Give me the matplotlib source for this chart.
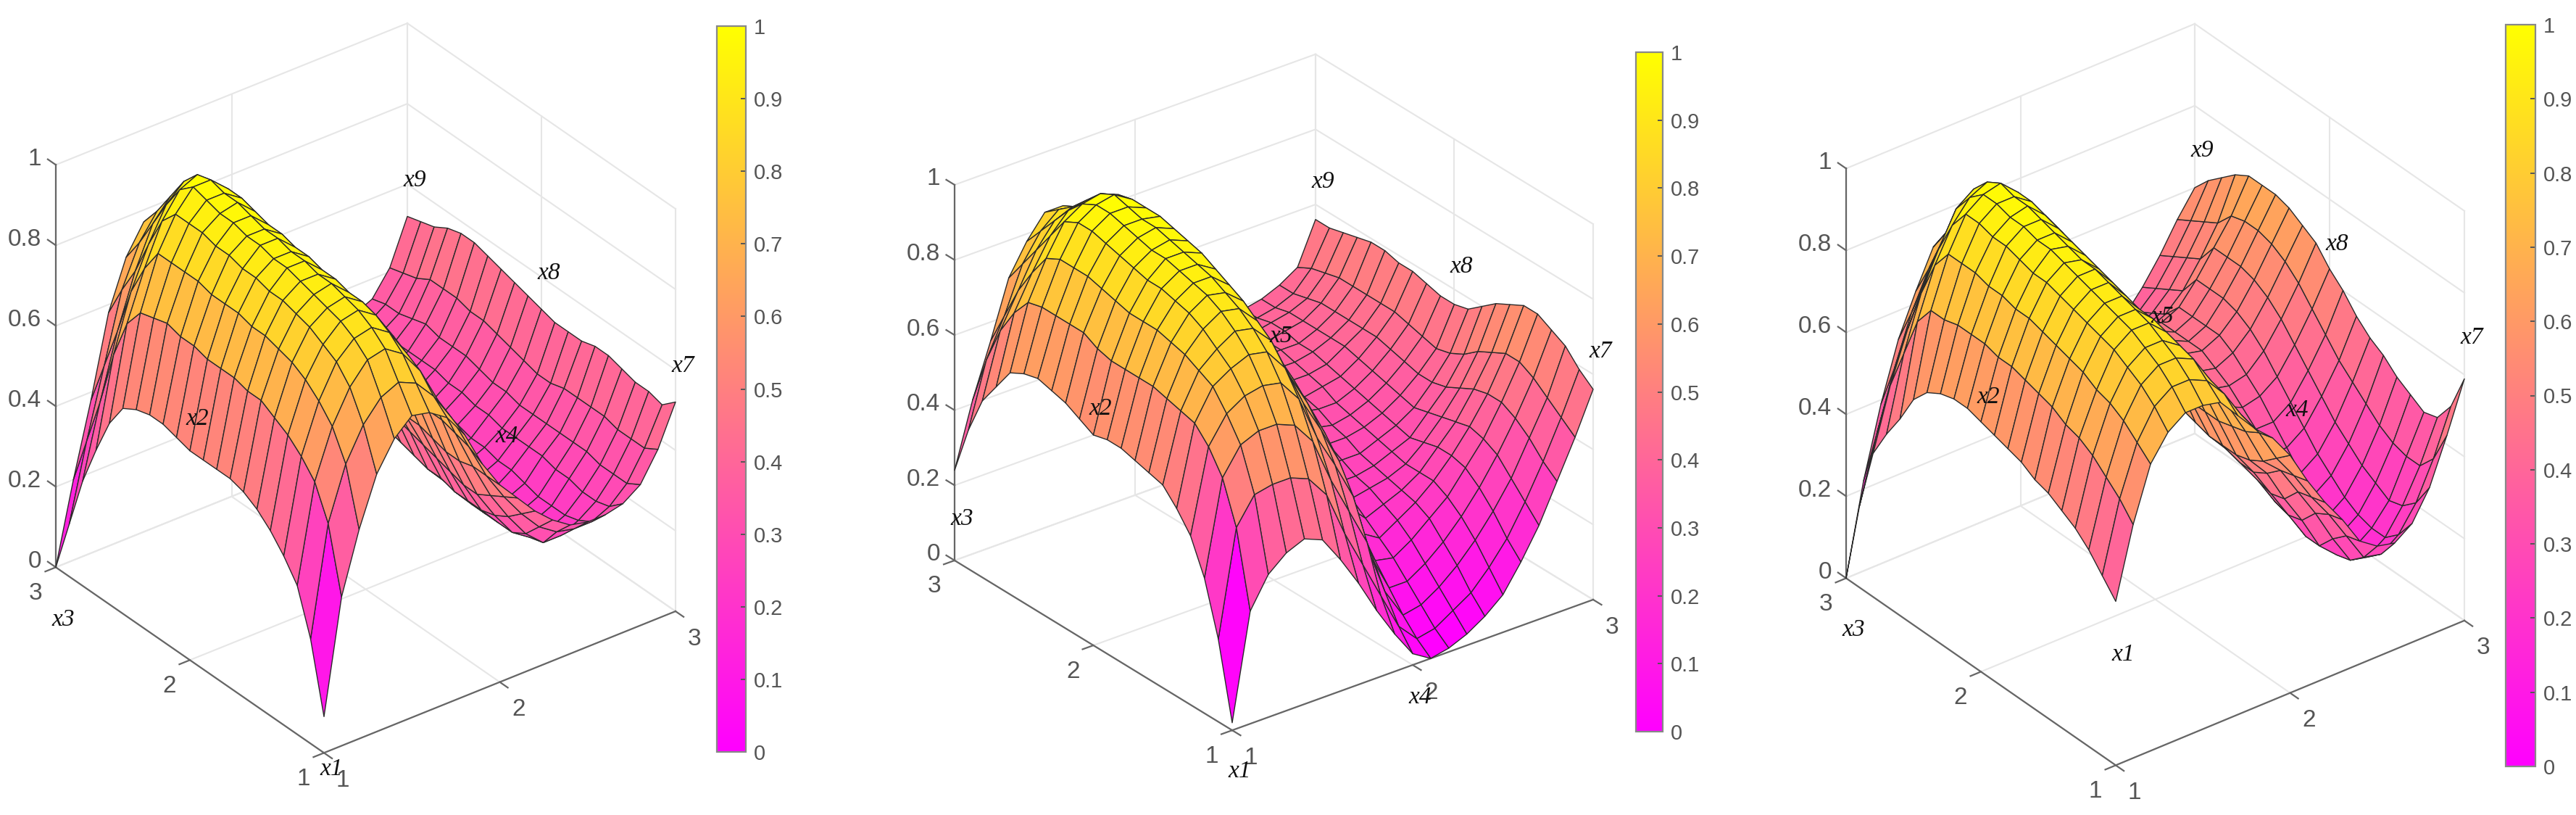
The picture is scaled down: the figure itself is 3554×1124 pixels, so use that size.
import numpy as np
import matplotlib
matplotlib.use("Agg")
import matplotlib.pyplot as plt
from matplotlib.cm import ScalarMappable
from matplotlib.colors import Normalize
from mpl_toolkits.mplot3d import proj3d

W, H = 3554, 1124

x_vals = [1.0 + 0.1 * i for i in range(21)]
y_vals = [1.0 + 0.1 * i for i in range(21)]
z_ticks = [0, 0.2, 0.4, 0.6, 0.8, 1]
z_tick_labels = ["0", "0.2", "0.4", "0.6", "0.8", "1"]
xy_ticks = [1, 2, 3]
cbar_ticks = [0, 0.1, 0.2, 0.3, 0.4, 0.5, 0.6, 0.7, 0.8, 0.9, 1]
cbar_tick_labels = ["0", "0.1", "0.2", "0.3", "0.4", "0.5", "0.6", "0.7", "0.8", "0.9", "1"]

# surface heights in percent, one row per x value, one column per y value
z_panel1 = [
    [9, 26, 37, 42, 46, 49, 51, 52, 52, 52, 52, 53, 54, 54, 53, 51, 45, 36, 26, 13, 0],
    [37, 53, 61, 65, 68, 70, 72, 72, 73, 73, 73, 74, 74, 75, 74, 73, 68, 58, 44, 32, 20],
    [52, 66, 73, 77, 80, 82, 83, 84, 84, 85, 85, 85, 86, 86, 86, 86, 80, 72, 60, 49, 38],
    [64, 74, 81, 85, 87, 89, 90, 91, 91, 92, 92, 93, 93, 94, 94, 94, 90, 82, 73, 66, 58],
    [71, 79, 86, 89, 91, 92, 93, 94, 95, 95, 96, 96, 97, 97, 98, 99, 96, 90, 83, 76, 70],
    [75, 81, 87, 90, 92, 93, 94, 94, 95, 95, 96, 96, 97, 98, 98, 99, 98, 94, 88, 82, 77],
    [74, 79, 84, 87, 89, 90, 90, 91, 91, 92, 92, 93, 93, 94, 95, 95, 94, 92, 88, 83, 78],
    [71, 74, 78, 80, 82, 83, 83, 84, 84, 85, 85, 86, 86, 87, 88, 88, 88, 86, 83, 79, 75],
    [65, 67, 69, 71, 72, 73, 74, 74, 75, 75, 76, 76, 77, 78, 79, 79, 79, 78, 76, 73, 70],
    [56, 58, 59, 60, 60, 61, 62, 62, 63, 63, 64, 65, 66, 67, 68, 68, 68, 67, 66, 64, 62],
    [49, 49, 49, 48, 48, 49, 50, 50, 51, 51, 52, 53, 54, 55, 56, 57, 57, 57, 56, 55, 54],
    [44, 42, 40, 38, 38, 39, 40, 41, 42, 43, 44, 45, 46, 47, 48, 48, 48, 47, 46, 45, 45],
    [39, 36, 33, 31, 30, 30, 30, 31, 31, 32, 33, 34, 35, 36, 37, 38, 39, 40, 40, 40, 41],
    [35, 31, 27, 25, 25, 25, 25, 26, 26, 27, 28, 29, 30, 31, 32, 33, 34, 35, 35, 35, 36],
    [32, 28, 23, 22, 22, 22, 23, 23, 24, 25, 25, 26, 27, 28, 29, 30, 31, 31, 32, 32, 33],
    [31, 27, 23, 22, 22, 22, 23, 23, 24, 25, 25, 26, 27, 28, 28, 29, 30, 30, 30, 30, 31],
    [31, 27, 25, 24, 24, 24, 25, 26, 26, 27, 27, 28, 29, 29, 30, 30, 31, 31, 31, 31, 31],
    [32, 29, 28, 28, 29, 29, 30, 30, 30, 30, 31, 31, 32, 32, 33, 33, 33, 33, 33, 33, 33],
    [35, 33, 33, 33, 34, 34, 34, 34, 34, 34, 35, 35, 36, 37, 37, 37, 38, 37, 36, 36, 35],
    [42, 40, 40, 40, 41, 41, 41, 41, 40, 40, 41, 42, 43, 44, 44, 45, 45, 45, 43, 42, 41],
    [52, 49, 50, 50, 51, 52, 52, 51, 51, 51, 52, 53, 54, 55, 56, 57, 57, 56, 54, 53, 52],
]

z_panel2 = [
    [2, 22, 36, 45, 50, 54, 55, 56, 57, 57, 56, 58, 60, 61, 62, 61, 59, 53, 47, 37, 24],
    [30, 50, 61, 67, 71, 72, 73, 74, 74, 74, 74, 75, 77, 77, 77, 77, 76, 71, 64, 54, 41],
    [38, 57, 68, 74, 79, 81, 83, 84, 85, 85, 85, 86, 87, 88, 88, 88, 86, 80, 73, 64, 55],
    [42, 58, 70, 77, 82, 85, 88, 90, 91, 92, 92, 93, 94, 95, 96, 96, 94, 88, 82, 76, 70],
    [44, 58, 70, 78, 84, 88, 91, 93, 94, 95, 96, 96, 97, 98, 99, 99, 97, 93, 88, 83, 78],
    [42, 56, 68, 77, 83, 87, 90, 92, 94, 95, 96, 97, 98, 98, 99, 100, 98, 94, 90, 87, 84],
    [35, 50, 62, 71, 77, 82, 85, 88, 90, 92, 94, 95, 96, 97, 97, 97, 96, 92, 89, 86, 84],
    [27, 38, 50, 59, 66, 71, 75, 78, 81, 83, 85, 86, 87, 88, 88, 88, 87, 85, 82, 79, 76],
    [18, 28, 40, 50, 57, 62, 66, 69, 72, 74, 76, 78, 79, 80, 80, 80, 80, 78, 76, 72, 69],
    [10, 18, 30, 40, 47, 52, 56, 59, 62, 64, 66, 68, 69, 70, 70, 70, 70, 69, 67, 64, 61],
    [3, 8, 15, 22, 29, 35, 40, 44, 47, 50, 52, 54, 55, 56, 57, 57, 57, 57, 56, 55, 54],
    [0, 3, 7, 12, 17, 22, 27, 31, 35, 38, 41, 43, 45, 47, 48, 49, 50, 50, 50, 49, 49],
    [1, 4, 8, 12, 16, 19, 22, 25, 27, 29, 32, 35, 37, 39, 41, 43, 44, 45, 45, 45, 45],
    [3, 7, 11, 15, 19, 22, 24, 26, 27, 29, 31, 33, 35, 37, 38, 40, 41, 42, 42, 42, 42],
    [6, 10, 15, 19, 23, 25, 26, 27, 28, 29, 31, 32, 34, 35, 37, 38, 39, 40, 40, 40, 40],
    [10, 15, 20, 24, 27, 29, 29, 29, 30, 31, 32, 33, 34, 36, 37, 38, 39, 39, 39, 39, 39],
    [17, 21, 26, 30, 33, 34, 34, 33, 32, 33, 34, 35, 36, 37, 38, 39, 39, 40, 40, 39, 39],
    [25, 29, 33, 37, 39, 40, 39, 38, 37, 36, 37, 38, 39, 40, 41, 41, 41, 41, 41, 40, 40],
    [35, 38, 42, 45, 47, 47, 46, 44, 42, 41, 41, 42, 43, 44, 44, 44, 44, 44, 43, 42, 42],
    [45, 48, 51, 54, 56, 56, 54, 52, 49, 47, 46, 47, 48, 49, 49, 49, 49, 49, 48, 47, 45],
    [56, 59, 63, 65, 67, 67, 65, 63, 60, 57, 56, 56, 57, 58, 58, 59, 59, 58, 57, 56, 56],
]

z_panel3 = [
    [40, 44, 48, 51, 53, 55, 56, 58, 59, 60, 61, 62, 62, 61, 59, 55, 48, 42, 35, 20, 0],
    [57, 61, 64, 67, 69, 70, 72, 73, 74, 75, 75, 76, 76, 76, 75, 75, 70, 60, 50, 36, 22],
    [70, 73, 76, 78, 79, 81, 82, 83, 84, 85, 85, 86, 86, 87, 87, 87, 82, 73, 62, 50, 39],
    [76, 80, 83, 85, 87, 88, 89, 90, 91, 92, 92, 93, 94, 94, 95, 95, 90, 82, 72, 62, 53],
    [79, 83, 86, 88, 90, 91, 92, 93, 94, 95, 96, 96, 97, 97, 98, 98, 95, 90, 80, 71, 63],
    [79, 83, 86, 88, 90, 91, 92, 93, 94, 94, 95, 96, 97, 98, 98, 99, 97, 93, 85, 78, 72],
    [78, 81, 84, 85, 86, 87, 87, 88, 89, 90, 91, 92, 93, 94, 95, 95, 93, 89, 84, 79, 75],
    [73, 76, 77, 78, 78, 79, 79, 79, 80, 82, 84, 85, 86, 88, 88, 89, 87, 83, 78, 74, 72],
    [68, 69, 69, 69, 69, 69, 69, 70, 72, 74, 75, 77, 78, 79, 80, 80, 78, 75, 71, 68, 65],
    [64, 63, 61, 60, 59, 59, 59, 61, 62, 63, 65, 67, 68, 69, 70, 70, 68, 66, 62, 60, 57],
    [58, 55, 52, 50, 49, 49, 49, 50, 51, 53, 55, 56, 58, 59, 60, 60, 59, 56, 53, 50, 48],
    [50, 49, 48, 45, 43, 43, 44, 46, 48, 50, 52, 53, 55, 56, 57, 57, 55, 53, 49, 46, 43],
    [43, 42, 41, 37, 36, 37, 39, 41, 43, 46, 49, 50, 52, 53, 54, 54, 52, 49, 46, 42, 38],
    [37, 36, 34, 30, 29, 30, 32, 35, 38, 41, 44, 46, 48, 49, 50, 50, 48, 46, 43, 39, 35],
    [30, 29, 26, 22, 22, 24, 27, 30, 34, 37, 40, 42, 44, 46, 47, 47, 46, 44, 41, 37, 33],
    [27, 22, 19, 18, 19, 21, 24, 27, 31, 35, 38, 41, 43, 45, 45, 45, 45, 41, 39, 36, 33],
    [26, 21, 18, 18, 19, 21, 24, 27, 31, 35, 39, 42, 45, 47, 47, 47, 47, 43, 41, 39, 36],
    [29, 24, 21, 21, 22, 24, 27, 30, 34, 38, 42, 46, 49, 51, 52, 52, 52, 47, 45, 43, 41],
    [36, 30, 27, 26, 28, 30, 33, 36, 40, 44, 48, 52, 55, 57, 58, 58, 58, 53, 51, 49, 47],
    [47, 39, 35, 35, 36, 38, 41, 44, 47, 51, 55, 59, 62, 64, 65, 65, 64, 60, 58, 56, 54],
    [59, 50, 45, 44, 46, 48, 51, 53, 56, 60, 63, 67, 69, 71, 72, 72, 72, 70, 67, 64, 60],
]

panels = [
    dict(z=z_panel1, L=(77, 783), F=(447, 1038), R=(932, 842), T=(77, 228),
         bar=(989, 36, 40, 1001),
         labels=[("x9", 3, 3, .61), ("x8", 3, 2, .61), ("x7", 3, 1, .61), ("x4", 2, 1, .61),
                 ("x2", 1, 2, .60), ("x3", 1, 3, -.13), ("x1", 1, 1, -.04)]),
    dict(z=z_panel2, L=(1317, 771), F=(1700, 1008), R=(2198, 830), T=(1317, 253),
         bar=(2257, 72, 37, 937),
         labels=[("x9", 3, 3, .66), ("x8", 3, 2, .66), ("x7", 3, 1, .66), ("x5", 2, 2, .65),
                 ("x2", 1, 2, .63), ("x3", 1, 3, .11), ("x1", 1, 1, -.11), ("x4", 2, 1, -.086)]),
    dict(z=z_panel3, L=(2547, 796), F=(2919, 1056), R=(3400, 858), T=(2547, 231),
         bar=(3457, 34, 41, 1023),
         labels=[("x9", 3, 3, .69), ("x8", 3, 2, .69), ("x7", 3, 1, .69), ("x5", 2, 2, .69),
                 ("x4", 2, 1, .69), ("x2", 1, 2, .67), ("x3", 1, 3, -.127), ("x1", 1, 1, .27)]),
]

GRID = "#e6e6e6"
AXIS = "#666666"
TICK_TEXT = "#555555"
TICK_FONT = "Liberation Sans"


def project(ax, x, y, z):
    xp, yp, _ = proj3d.proj_transform(x, y, z, ax.get_proj())
    return ax.transData.transform((xp, yp))


def fit_axes(fig, ax, p):
    # move and scale the axes until the box corners land on the wanted pixels
    corners = [((1, 3, 0), p["L"]), ((1, 1, 0), p["F"]), ((3, 1, 0), p["R"]), ((1, 3, 1), p["T"])]
    side, cx, cy = 1000.0, p["F"][0], H - 500.0
    for _ in range(4):
        ax.set_position([(cx - side / 2) / W, (cy - side / 2) / H, side / W, side / H])
        fig.canvas.draw()
        got = np.array([project(ax, *c[0]) for c in corners])
        want = np.array([(c[1][0], H - c[1][1]) for c in corners], dtype=float)
        side *= (want[2, 0] - want[0, 0]) / (got[2, 0] - got[0, 0])
        cx += (want - got)[:, 0].mean()
        cy += (want - got)[:, 1].mean()
    ax.set_position([(cx - side / 2) / W, (cy - side / 2) / H, side / W, side / H])
    fig.canvas.draw()


def draw_box(ax):
    g = dict(color=GRID, lw=1.5, zorder=1)
    for v in xy_ticks:
        ax.plot([v, v], [1, 3], [0, 0], **g)
        ax.plot([1, 3], [v, v], [0, 0], **g)
        ax.plot([v, v], [3, 3], [0, 1], **g)
        ax.plot([3, 3], [v, v], [0, 1], **g)
    for z in z_ticks:
        ax.plot([1, 3], [3, 3], [z, z], **g)
        ax.plot([3, 3], [1, 3], [z, z], **g)
    a = dict(color=AXIS, lw=1.6, zorder=1.5)
    ax.plot([1, 1], [3, 3], [0, 1], **a)
    ax.plot([1, 1], [1, 3], [0, 0], **a)
    ax.plot([1, 3], [1, 1], [0, 0], **a)
    for z in z_ticks:
        ax.plot([1, 1], [3, 3.06], [z, z], **a)
    for v in xy_ticks:
        ax.plot([0.94, 1], [v, v], [0, 0], **a)
        ax.plot([v, v], [0.94, 1], [0, 0], **a)


def draw_tick_text(fig, ax):
    t = dict(color=TICK_TEXT, family=TICK_FONT, fontsize=24, transform=None, va="center")
    for z, s in zip(z_ticks, z_tick_labels):
        px, py = project(ax, 1, 3, z)
        fig.text(px - 20, py + 8, s, ha="right", **t)
    for v in xy_ticks:
        px, py = project(ax, 1, v, 0)
        fig.text(px - 28, py - 36, str(v), ha="center", **t)
        px, py = project(ax, v, 1, 0)
        fig.text(px + 26, py - 38, str(v), ha="center", **t)


fig = plt.figure(figsize=(W / 100, H / 100), dpi=100, facecolor="white")
norm = Normalize(0, 1)

for p in panels:
    ax = fig.add_subplot(projection="3d", proj_type="ortho")
    ax.computed_zorder = False
    ax.patch.set_alpha(0)
    ax.set_axis_off()
    ax.set_xlim(1, 3)
    ax.set_ylim(1, 3)
    ax.set_zlim(0, 1)

    # view and box shape follow from the three floor corners and the z axis height
    L, F, R, T = p["L"], p["F"], p["R"], p["T"]
    hx, hy = R[0] - F[0], F[0] - L[0]
    vx, vy = F[1] - R[1], F[1] - L[1]
    azim = np.degrees(np.arctan2(-hx, -hy))
    sin_e = (vx / hy + vy / hx) / 2
    elev = np.degrees(np.arcsin(sin_e))
    span = np.hypot(hx, hy)
    ax.view_init(elev=elev, azim=azim)
    ax.set_box_aspect((1, 1, (L[1] - T[1]) / np.cos(np.radians(elev)) / span))
    fit_axes(fig, ax, p)

    draw_box(ax)
    X, Y = np.meshgrid(x_vals, y_vals, indexing="ij")
    Z = np.array(p["z"]) / 100
    # each cell takes the colour of its first corner, as flat shading does
    ax.plot_surface(X, Y, Z, rstride=1, cstride=1, facecolors=plt.cm.spring(norm(Z)), shade=False,
                    edgecolor="#2a2a2a", linewidth=1.0, antialiased=True, zorder=2)

    draw_tick_text(fig, ax)
    for name, x, y, z in p["labels"]:
        px, py = project(ax, x, y, z)
        fig.text(px + 10, py, name, family="Liberation Serif", style="italic", fontsize=24,
                 color="#111111", ha="center", va="center", transform=None, zorder=5)

    bx, by, bw, bh = p["bar"]
    cax = fig.add_axes([bx / W, 1 - (by + bh) / H, bw / W, bh / H])
    cb = fig.colorbar(ScalarMappable(norm=norm, cmap="spring"), cax=cax, ticks=cbar_ticks)
    cb.ax.set_yticklabels(cbar_tick_labels, color=TICK_TEXT, family=TICK_FONT, fontsize=21)
    cb.ax.tick_params(direction="in", length=5, width=1.4, color="#555555", pad=8)
    cb.outline.set_edgecolor("#888888")
    cb.outline.set_linewidth(1.6)

fig.savefig("out.png", dpi=100)
